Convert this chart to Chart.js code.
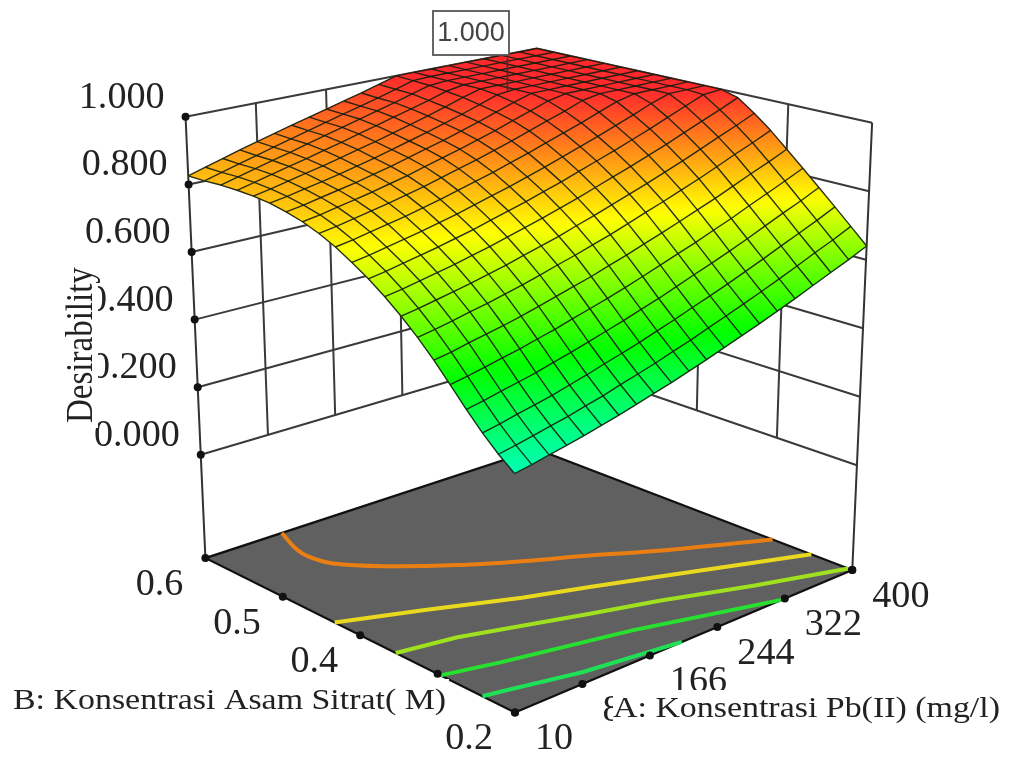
<!DOCTYPE html>
<html>
<head>
<meta charset="utf-8">
<script src="https://cdn.jsdelivr.net/npm/chart.js"></script>
<style>
  html, body { margin: 0; padding: 0; background: #fff; }
  canvas { display: block; }
</style>
</head>
<body>
<canvas id="surface" width="1016" height="757"></canvas>
<script>
// values
const aTicks = [10, 88, 166, 244, 322, 400];
const bTicks = [0.2, 0.3, 0.4, 0.5, 0.6];
const zTicks = [0, 0.2, 0.4, 0.6, 0.8, 1];
const surfaceA = [10, 29.5, 49, 68.5, 88, 107.5, 127, 146.5, 166, 185.5, 205, 224.5, 244, 263.5, 283, 302.5, 322, 341.5, 361, 380.5, 400];
const surfaceB = [0.2, 0.22, 0.24, 0.26, 0.28, 0.3, 0.32, 0.34, 0.36, 0.38, 0.4, 0.42, 0.44, 0.46, 0.48, 0.5, 0.52, 0.54, 0.56, 0.58, 0.6];
// one row per surfaceB value, one column per surfaceA value
const desirability = [
  [.320,.328,.338,.348,.358,.370,.382,.396,.410,.424,.440,.456,.474,.492,.510,.530,.550,.572,.594,.616,.640],
  [.354,.363,.373,.384,.394,.407,.419,.434,.448,.463,.480,.496,.515,.533,.552,.572,.593,.615,.638,.660,.685],
  [.394,.403,.414,.424,.435,.448,.461,.476,.490,.505,.522,.539,.558,.576,.595,.616,.637,.660,.682,.705,.730],
  [.440,.449,.460,.470,.481,.494,.507,.521,.536,.551,.568,.584,.603,.622,.641,.661,.682,.705,.728,.750,.775],
  [.490,.499,.509,.520,.530,.543,.555,.570,.584,.599,.615,.632,.650,.669,.687,.708,.728,.751,.773,.796,.820],
  [.540,.548,.559,.569,.579,.591,.604,.618,.632,.646,.663,.679,.697,.715,.734,.754,.774,.796,.819,.841,.865],
  [.586,.594,.604,.615,.625,.637,.649,.663,.678,.692,.708,.724,.742,.761,.779,.799,.819,.841,.864,.886,.910],
  [.628,.636,.646,.656,.666,.678,.690,.704,.718,.732,.749,.765,.783,.801,.819,.839,.859,.881,.904,.926,.950],
  [.666,.674,.684,.694,.704,.716,.728,.742,.756,.770,.786,.802,.820,.838,.856,.876,.896,.918,.940,.962,.986],
  [.700,.708,.718,.728,.738,.750,.762,.776,.790,.804,.820,.836,.854,.872,.890,.910,.930,.952,.974,.996,1],
  [.730,.738,.748,.758,.768,.780,.792,.806,.820,.834,.850,.866,.884,.902,.920,.940,.960,.982,1,1,1],
  [.758,.766,.776,.786,.796,.808,.820,.834,.848,.862,.878,.894,.912,.930,.948,.968,.988,1,1,1,1],
  [.781,.789,.799,.809,.819,.831,.843,.857,.871,.885,.901,.917,.935,.953,.971,.991,1,1,1,1,1],
  [.799,.807,.817,.827,.837,.849,.861,.875,.889,.903,.919,.935,.953,.971,.989,1,1,1,1,1,1],
  [.812,.820,.830,.840,.850,.862,.874,.888,.902,.916,.932,.948,.966,.984,1,1,1,1,1,1,1],
  [.822,.830,.840,.850,.860,.872,.884,.898,.912,.926,.942,.958,.976,.994,1,1,1,1,1,1,1],
  [.827,.837,.848,.859,.870,.882,.895,.908,.922,.936,.951,.967,.985,1,1,1,1,1,1,1,1],
  [.829,.841,.853,.865,.877,.890,.903,.917,.931,.945,.959,.974,.991,1,1,1,1,1,1,1,1],
  [.829,.842,.855,.868,.881,.895,.909,.923,.937,.951,.965,.981,.996,1,1,1,1,1,1,1,1],
  [.826,.840,.854,.868,.882,.896,.910,.924,.938,.952,.966,.982,.998,1,1,1,1,1,1,1,1],
  [.825,.840,.855,.870,.884,.898,.912,.926,.940,.954,.968,.984,1,1,1,1,1,1,1,1,1]
];
// contour lines on the floor, as A and B values
const contourA = [
  [100, 87, 84, 91, 121, 171, 219, 268, 317, 400],
  [10, 85, 166, 223, 279, 400],
  [10, 71, 186, 246, 322, 400],
  [10, 65, 189, 318],
  [10, 27, 103, 203]
];
const contourB = [
  [.6, .568, .548, .524, .492, .452, .42, .39, .355, .301],
  [.433, .402, .364, .34, .314, .252],
  [.354, .342, .299, .276, .24, .205],
  [.296, .28, .248, .2],
  [.242, .238, .217, .2]
];
const contourColors = ['#e97f12', '#e9d91e', '#9fe01f', '#28e030', '#20e058'];
const contourTension = [0.35, 0, 0, 0, 0];
const optimum = { a: 275, b: 0.5, z: 1, label: '1.000' };

// box corners on screen, [A low/B low, A high/B low, A low/B high, A high/B high]
const floorBox = [[515, 716], [855, 572], [203, 560], [537, 450]];
const topBox = [[514, 212], [875, 120], [183, 114], [537, 45]];
const floorGap = 0.234; // floor sits below z=0

function corner(box, u, v, i) {
  return box[0][i] * (1 - u) * (1 - v) + box[1][i] * u * (1 - v) +
         box[2][i] * (1 - u) * v + box[3][i] * u * v;
}
// h: 0 is the floor, 1 is z=1
function lift(a, b, h) {
  const u = (a - 10) / 390, v = (b - 0.2) / 0.4;
  const x0 = corner(floorBox, u, v, 0), y0 = corner(floorBox, u, v, 1);
  const x1 = corner(topBox, u, v, 0), y1 = corner(topBox, u, v, 1);
  return { x: x0 + (x1 - x0) * h, y: y0 + (y1 - y0) * h };
}
function project(a, b, z) { return lift(a, b, floorGap + (1 - floorGap) * z); }

function heatColor(z) {
  const stops = [[0, 0, 255], [0, 255, 255], [0, 255, 0], [255, 255, 0], [255, 0, 0]];
  const t = Math.min(0.9999, Math.max(0, z)) * 4, i = Math.floor(t), f = t - i;
  const c = [0, 1, 2].map(k => stops[i][k] + (stops[i + 1][k] - stops[i][k]) * f);
  // the red end of the original is a bit lighter
  const soft = Math.max(0, z - 0.75);
  return `rgb(${Math.round(c[0])},${Math.round(c[1] + soft * 160)},${Math.round(c[2] + soft * 180)})`;
}

const paint = document.createElement('canvas').getContext('2d');

function surfacePoint(c, r) { return project(surfaceA[c], surfaceB[r], desirability[r][c]); }

function cellDataset(i, j) {
  const corners = [[i, j], [i + 1, j], [i + 1, j + 1], [i, j + 1]].map(([c, r]) => (
    Object.assign(surfacePoint(c, r), { z: desirability[r][c] })
  ));
  const top = corners.reduce((p, q) => (q.y < p.y ? q : p));
  const bottom = corners.reduce((p, q) => (q.y > p.y ? q : p));
  const grad = paint.createLinearGradient(0, top.y, 0, Math.max(bottom.y, top.y + 1));
  [0, 0.25, 0.5, 0.75, 1].forEach(t => grad.addColorStop(t, heatColor(top.z + (bottom.z - top.z) * t)));
  return {
    data: corners.concat([corners[0]]).map(p => ({ x: p.x, y: p.y })),
    showLine: true, fill: 'shape', backgroundColor: grad,
    borderColor: grad, borderWidth: 0.8, pointRadius: 0
  };
}
function lineDataset(points, color, width, tension) {
  return {
    data: points, showLine: true, fill: false, borderColor: color, borderWidth: width,
    pointRadius: 0, tension: tension || 0, borderCapStyle: 'butt', borderJoinStyle: 'round'
  };
}

const aMin = aTicks[0], aMax = aTicks[aTicks.length - 1];
const bMin = bTicks[0], bMax = bTicks[bTicks.length - 1];
const painted = []; // in paint order, back to front

// floor
const floorPts = [[aMin, bMin], [aMax, bMin], [aMax, bMax], [aMin, bMax], [aMin, bMin]].map(p => lift(p[0], p[1], 0));
painted.push({
  data: floorPts, showLine: true, fill: 'shape', backgroundColor: '#606060',
  borderColor: '#111', borderWidth: 2.2, pointRadius: 0
});

// back walls
zTicks.forEach(z => {
  painted.push(lineDataset([project(aMin, bMax, z), project(aMax, bMax, z), project(aMax, bMin, z)], '#3a3a3a', 2));
});
aTicks.slice(1, -1).forEach(a => {
  painted.push(lineDataset([project(a, bMax, 0), project(a, bMax, 1)], '#3a3a3a', 2));
});
bTicks.slice(1, -1).forEach(b => {
  painted.push(lineDataset([project(aMax, b, 0), project(aMax, b, 1)], '#3a3a3a', 2));
});
painted.push(lineDataset([lift(aMin, bMax, 0), lift(aMin, bMax, 1)], '#333', 2));
painted.push(lineDataset([lift(aMax, bMin, 0), lift(aMax, bMin, 1)], '#333', 2));

// contours
contourA.forEach((list, k) => {
  painted.push(lineDataset(list.map((a, n) => lift(a, contourB[k][n], 0)), contourColors[k], 4, contourTension[k]));
});

// tick dots
const dots = [];
zTicks.forEach(z => dots.push(project(aMin, bMax, z)));
aTicks.forEach(a => dots.push(lift(a, bMin, 0)));
bTicks.forEach(b => dots.push(lift(aMin, b, 0)));
dots.push(lift(aMax, bMin, 0));
painted.push({ data: dots, showLine: false, pointRadius: 4, pointBackgroundColor: '#111', pointBorderWidth: 0 });

// surface, far corner first, then its wire mesh on top
for (let j = surfaceB.length - 2; j >= 0; j--) {
  for (let i = surfaceA.length - 2; i >= 0; i--) painted.push(cellDataset(i, j));
}
const meshColor = 'rgba(20,30,14,0.9)';
surfaceA.forEach((a, c) => {
  painted.push(lineDataset(surfaceB.map((b, r) => surfacePoint(c, r)), meshColor, 1.4));
});
surfaceB.forEach((b, r) => {
  painted.push(lineDataset(surfaceA.map((a, c) => surfacePoint(c, r)), meshColor, 1.4));
});

// flag stem on the optimum
const flagBox = { left: 433, top: 11, right: 509, bottom: 55 };
const flagFoot = project(optimum.a, optimum.b, optimum.z);
painted.push(lineDataset([flagFoot, { x: flagFoot.x, y: flagBox.bottom }], '#333', 1.6));

const serif = '"Liberation Serif", "Times New Roman", serif';

function stretched(ctx, text, x, y, size, sx, align) {
  ctx.save();
  ctx.translate(x, y);
  ctx.scale(sx, 1);
  ctx.font = `${size}px ${serif}`;
  ctx.textAlign = align;
  ctx.textBaseline = 'alphabetic';
  ctx.fillText(text, 0, 0);
  ctx.restore();
}

const labelsPlugin = {
  id: 'boxLabels',
  afterDraw(chart) {
    const ctx = chart.ctx, xs = chart.scales.x, ys = chart.scales.y;
    const px = p => ({ x: xs.getPixelForValue(p.x), y: ys.getPixelForValue(p.y) });
    ctx.save();
    ctx.fillStyle = '#222';

    zTicks.forEach(z => {
      const p = px(project(aMin, bMax, z));
      stretched(ctx, z.toFixed(3), p.x - 21, p.y - 9, 37, 1.03, 'right');
    });
    bTicks.forEach(b => {
      const p = px(lift(aMin, b, 0));
      stretched(ctx, b.toFixed(1), p.x - 22, p.y + 37, 37, 1.03, 'right');
    });
    aTicks.forEach(a => {
      const p = px(lift(a, bMin, 0));
      stretched(ctx, String(a), p.x + 20, p.y + 37, 37, 1.03, 'left');
    });

    // axis titles sit on white plates that cut the tick labels
    ctx.fillStyle = '#fff';
    ctx.fillRect(66, 262, 32, 166);
    ctx.fillRect(13, 679, 436, 38);
    ctx.fillRect(613, 690, 392, 36);

    ctx.fillStyle = '#222';
    stretched(ctx, 'B: Konsentrasi Asam Sitrat( M)', 13, 709, 30, 1.13, 'left');
    stretched(ctx, 'A: Konsentrasi Pb(II) (mg/l)', 613, 717, 30, 1.13, 'left');

    ctx.save();
    ctx.translate(92, 423);
    ctx.rotate(-Math.PI / 2);
    ctx.scale(1, 1.15);
    ctx.font = `33px ${serif}`;
    ctx.textAlign = 'left';
    ctx.fillText('Desirability', 0, 0);
    ctx.restore();

    // flag
    ctx.fillStyle = '#fff';
    ctx.strokeStyle = '#555';
    ctx.lineWidth = 1.8;
    const w = flagBox.right - flagBox.left, h = flagBox.bottom - flagBox.top;
    ctx.fillRect(flagBox.left, flagBox.top, w, h);
    ctx.strokeRect(flagBox.left, flagBox.top, w, h);
    ctx.fillStyle = '#444';
    ctx.font = '27px "Liberation Sans", Arial, sans-serif';
    ctx.textAlign = 'center';
    ctx.textBaseline = 'middle';
    ctx.fillText(optimum.label, (flagBox.left + flagBox.right) / 2, (flagBox.top + flagBox.bottom) / 2 + 1);
    ctx.restore();
  }
};

// chart.js paints the first dataset last
new Chart(document.getElementById('surface').getContext('2d'), {
  type: 'scatter',
  data: { datasets: painted.slice().reverse() },
  options: {
    responsive: false,
    animation: false,
    events: [],
    layout: { padding: 0 },
    plugins: { legend: { display: false }, tooltip: { enabled: false } },
    scales: {
      x: { type: 'linear', min: 0, max: 1016, display: false },
      y: { type: 'linear', min: 0, max: 757, reverse: true, display: false }
    }
  },
  plugins: [labelsPlugin]
});
</script>
</body>
</html>
